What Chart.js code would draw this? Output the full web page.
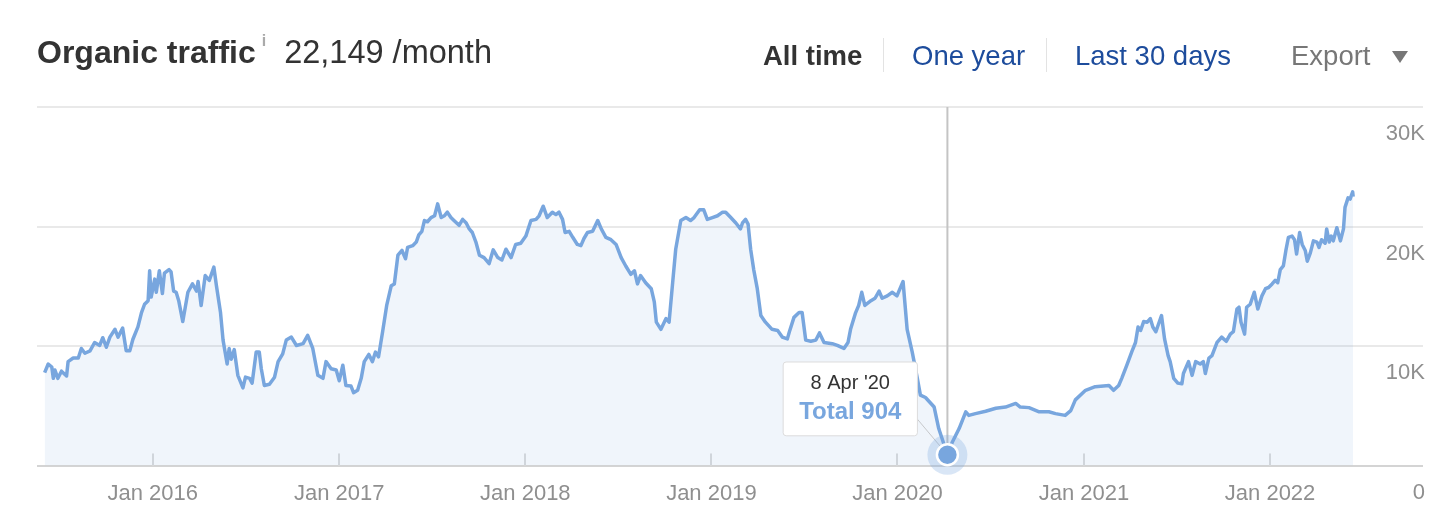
<!DOCTYPE html>
<html lang="en">
<head>
    <meta charset="UTF-8">
    <title>Organic traffic</title>
    <script src="https://cdn.jsdelivr.net/npm/chart.js"></script>
    <style>
        body { margin: 0; background: #fff; font-family: "Liberation Sans", Arial, Helvetica, sans-serif; }
        #wrap { position: relative; width: 1450px; height: 528px; overflow: hidden; }
        #chart-box { position: absolute; left: 0; top: 0; width: 1450px; height: 528px; }
        .hd { position: absolute; white-space: nowrap; line-height: 1; }
        .title { left: 37px; top: 36px; font-size: 32px; color: #333; }
        .title b { font-weight: bold; }
        .title sup { font-size: 16px; font-weight: bold; color: #aaa; vertical-align: top; position: relative; top: -3px; margin: 0 18px 0 6px; }
        .title .val { font-size: 32.5px; }
        .nav { top: 42px; font-size: 27.5px; }
        .nav.active { color: #333; font-weight: bold; }
        .nav.link { color: #1d4c9c; }
        .nav.export { color: #777; }
        .sep { position: absolute; top: 38px; width: 1px; height: 34px; background: #e3e3e3; }
        .caret { position: absolute; left: 1392px; top: 51px; width: 0; height: 0;
                 border-left: 8px solid transparent; border-right: 8px solid transparent; border-top: 12px solid #777; }
    </style>
</head>
<body>
<div id="wrap">
    <div id="chart-box"><canvas id="trafficChart"></canvas></div>

    <!-- header -->
    <div class="hd title"><b>Organic traffic</b><sup>i</sup><span class="val">22,149 /month</span></div>
    <div class="hd nav active" style="left:763px">All time</div>
    <div class="sep" style="left:883px"></div>
    <div class="hd nav link" style="left:912px">One year</div>
    <div class="sep" style="left:1046px"></div>
    <div class="hd nav link" style="left:1075px">Last 30 days</div>
    <div class="hd nav export" style="left:1291px">Export</div>
    <div class="caret"></div>
</div>

<script>
    // traffic readings (date, visits / month)
    const dates = [
        '2015-06-03','2015-06-10','2015-06-17','2015-06-20','2015-06-23','2015-06-29','2015-07-06','2015-07-16',
        '2015-07-19','2015-07-29','2015-08-08','2015-08-14','2015-08-21','2015-08-31','2015-09-09','2015-09-19',
        '2015-09-25','2015-10-02','2015-10-09','2015-10-19','2015-10-25','2015-11-03','2015-11-10','2015-11-17',
        '2015-11-23','2015-12-03','2015-12-10','2015-12-16','2015-12-23','2015-12-26','2015-12-29','2016-01-05',
        '2016-01-08','2016-01-14','2016-01-20','2016-01-24','2016-02-02','2016-02-06','2016-02-11','2016-02-16',
        '2016-02-21','2016-02-29','2016-03-10','2016-03-19','2016-03-27','2016-03-30','2016-04-05','2016-04-13',
        '2016-04-21','2016-04-30','2016-05-05','2016-05-13','2016-05-18','2016-05-26','2016-05-30','2016-06-03',
        '2016-06-09','2016-06-16','2016-06-26','2016-07-01','2016-07-09','2016-07-14','2016-07-22','2016-07-28',
        '2016-08-01','2016-08-07','2016-08-17','2016-08-27','2016-09-03','2016-09-12','2016-09-19','2016-09-29',
        '2016-10-09','2016-10-22','2016-10-31','2016-11-10','2016-11-20','2016-11-30','2016-12-06','2016-12-16',
        '2016-12-26','2017-01-01','2017-01-08','2017-01-14','2017-01-24','2017-01-29','2017-02-06','2017-02-13',
        '2017-02-19','2017-02-28','2017-03-07','2017-03-13','2017-03-19','2017-03-27','2017-04-04','2017-04-13',
        '2017-04-19','2017-04-26','2017-05-04','2017-05-11','2017-05-15','2017-05-25','2017-06-01','2017-06-06',
        '2017-06-12','2017-06-17','2017-06-23','2017-06-30','2017-07-07','2017-07-13','2017-07-20','2017-07-26',
        '2017-08-01','2017-08-08','2017-08-14','2017-08-24','2017-08-31','2017-09-07','2017-09-13','2017-09-19',
        '2017-09-26','2017-10-03','2017-10-12','2017-10-22','2017-10-30','2017-11-08','2017-11-16','2017-11-24',
        '2017-12-04','2017-12-13','2017-12-23','2018-01-02','2018-01-12','2018-01-22','2018-01-28','2018-02-05',
        '2018-02-13','2018-02-23','2018-03-02','2018-03-08','2018-03-15','2018-03-20','2018-03-28','2018-04-04',
        '2018-04-13','2018-04-20','2018-04-26','2018-05-03','2018-05-13','2018-05-23','2018-05-30','2018-06-08',
        '2018-06-18','2018-06-28','2018-07-08','2018-07-17','2018-07-27','2018-08-03','2018-08-09','2018-08-15',
        '2018-08-25','2018-09-05','2018-09-11','2018-09-15','2018-09-24','2018-10-04','2018-10-10','2018-10-17',
        '2018-10-23','2018-11-02','2018-11-12','2018-11-21','2018-11-28','2018-12-09','2018-12-17','2018-12-24',
        '2019-01-03','2019-01-13','2019-01-23','2019-01-29','2019-02-08','2019-02-18','2019-02-27','2019-03-03',
        '2019-03-09','2019-03-14','2019-03-19','2019-03-25','2019-04-01','2019-04-08','2019-04-17','2019-04-30',
        '2019-05-11','2019-05-20','2019-05-30','2019-06-03','2019-06-12','2019-06-22','2019-06-28','2019-07-05',
        '2019-07-15','2019-07-25','2019-08-01','2019-08-10','2019-08-26','2019-09-05','2019-09-18','2019-09-26',
        '2019-10-01','2019-10-11','2019-10-17','2019-10-23','2019-10-29','2019-11-10','2019-11-18','2019-11-26',
        '2019-12-02','2019-12-12','2019-12-22','2019-12-31','2020-01-12','2020-01-20','2020-01-30','2020-02-09',
        '2020-02-15','2020-02-25','2020-03-13','2020-03-22','2020-04-08','2020-04-18','2020-05-01','2020-05-14',
        '2020-05-20','2020-06-02','2020-06-22','2020-07-12','2020-07-31','2020-08-20','2020-08-29','2020-09-15',
        '2020-10-05','2020-10-24','2020-11-06','2020-11-25','2020-12-06','2020-12-15','2021-01-04','2021-01-23',
        '2021-02-19','2021-02-28','2021-03-10','2021-03-16','2021-03-26','2021-04-05','2021-04-12','2021-04-17',
        '2021-04-22','2021-04-28','2021-05-05','2021-05-11','2021-05-16','2021-05-22','2021-05-26','2021-06-02',
        '2021-06-08','2021-06-15','2021-06-19','2021-06-26','2021-07-04','2021-07-12','2021-07-15','2021-07-25',
        '2021-08-01','2021-08-08','2021-08-17','2021-08-23','2021-08-27','2021-09-03','2021-09-09','2021-09-19',
        '2021-09-28','2021-10-07','2021-10-15','2021-10-21','2021-10-28','2021-11-01','2021-11-05','2021-11-12',
        '2021-11-16','2021-11-23','2021-12-01','2021-12-08','2021-12-16','2021-12-23','2021-12-29','2022-01-05',
        '2022-01-11','2022-01-16','2022-01-21','2022-01-27','2022-02-01','2022-02-06','2022-02-13','2022-02-18',
        '2022-02-22','2022-02-28','2022-03-05','2022-03-11','2022-03-15','2022-03-21','2022-03-27','2022-04-03',
        '2022-04-07','2022-04-12','2022-04-19','2022-04-22','2022-04-27','2022-05-01','2022-05-05','2022-05-12',
        '2022-05-19','2022-05-25','2022-05-28','2022-06-03','2022-06-07','2022-06-12','2022-06-13'
    ];
    const traffic = [
        7780, 8500, 8250, 7300, 8000, 7300, 7900, 7500,
        8700, 9000, 9000, 9800, 9400, 9600, 10300, 10050,
        10700, 9900, 10750, 11400, 10750, 11500, 9600, 9600,
        10550, 11600, 12800, 13500, 13800, 16300, 14100, 15600,
        14500, 16300, 14400, 16100, 16400, 16200, 14600, 14500,
        13800, 12050, 14500, 15200, 14600, 15400, 13400, 15900,
        15500, 16600, 15050, 12800, 10500, 8500, 9800, 8900,
        9700, 7550, 6500, 7400, 7300, 6900, 9500, 9500,
        8100, 6700, 6800, 7400, 8700, 9350, 10500, 10750,
        10050, 10200, 10900, 9800, 7550, 7300, 8700, 8100,
        8000, 7100, 8400, 6700, 6650, 6100, 6300, 7300,
        8700, 9300, 8700, 9500, 9100, 11200, 13400, 15050,
        15200, 17600, 18000, 17300, 18250, 18400, 18700, 19300,
        19600, 20500, 20400, 20750, 20900, 21900, 20750, 20900,
        21200, 20750, 20500, 20100, 20600, 20300, 19800, 19500,
        18700, 17600, 17400, 16900, 18050, 17400, 17200, 18100,
        17400, 18500, 18600, 19200, 20500, 20600, 20900, 21700,
        20750, 21200, 21000, 21200, 20600, 19500, 19600, 19100,
        18500, 18400, 19000, 19500, 19600, 20500, 19800, 19100,
        18900, 18500, 17400, 16700, 16000, 16300, 15200, 15900,
        15300, 14800, 13700, 12000, 11400, 12300, 12000, 15300,
        18100, 20500, 20750, 20500, 20750, 21400, 21400, 20600,
        20750, 20900, 21200, 21200, 20750, 20300, 19800, 20300,
        20600, 20200, 18100, 16400, 14800, 12550, 12000, 11400,
        11300, 10750, 10600, 11200, 12400, 12800, 12800, 10500,
        10400, 10500, 11100, 10300, 10200, 10050, 9800, 10300,
        11400, 12800, 13400, 14500, 13400, 13800, 14000, 14600,
        14000, 14200, 14500, 14200, 15400, 11400, 9500, 7300,
        5900, 5700, 4900, 3100, 904, 2000, 3100, 4500,
        4200, 4350, 4550, 4800, 4900, 5200, 4900, 4850,
        4500, 4500, 4350, 4200, 4600, 5500, 6300, 6600,
        6700, 6300, 6700, 7300, 8400, 9550, 10300, 11600,
        11300, 12050, 12000, 12300, 11600, 11200, 11700, 12550,
        10600, 9200, 8700, 7300, 6900, 6850, 7700, 8700,
        7550, 8700, 8500, 8700, 7700, 9000, 9200, 10300,
        10750, 10400, 11000, 11200, 13100, 13250, 12000, 11000,
        13250, 13500, 14500, 13100, 14200, 14800, 14900, 15200,
        15500, 15300, 16400, 16700, 18000, 19100, 19200, 18900,
        17700, 19500, 18500, 18000, 17100, 17800, 18800, 18700,
        18250, 18900, 18600, 19800, 18700, 19200, 18800, 19900,
        18800, 19800, 21600, 22400, 22300, 22900, 22500
    ];

    const xTickDates = ['2016-01-01', '2017-01-01', '2018-01-01', '2019-01-01', '2020-01-01', '2021-01-01', '2022-01-01'];
    const xTickLabels = ['Jan 2016', 'Jan 2017', 'Jan 2018', 'Jan 2019', 'Jan 2020', 'Jan 2021', 'Jan 2022'];
    const yTicks = [0, 10000, 20000, 30000];
    const yTickLabels = ['0', '10K', '20K', '30K'];
    const xRange = ['2015-05-19', '2022-10-28'];
    const highlightDate = '2020-04-08';

    const monthNames = ['Jan','Feb','Mar','Apr','May','Jun','Jul','Aug','Sep','Oct','Nov','Dec'];
    const lineColor = '#78a6de';
    const hiIndex = dates.indexOf(highlightDate);

    // tooltip sits up-left of the point
    Chart.Tooltip.positioners.upLeft = function(items) {
        if (!items.length) return false;
        const el = items[0].element;
        return { x: el.x - 33, y: el.y - 19 };
    };

    // crosshair, year tick marks and the highlighted point
    const markers = {
        id: 'markers',
        beforeDatasetsDraw(chart) {
            const { ctx, chartArea } = chart;
            const pt = chart.getDatasetMeta(0).data[hiIndex];
            ctx.save();
            ctx.strokeStyle = '#c4c4c4';
            ctx.lineWidth = 2;
            ctx.beginPath();
            ctx.moveTo(pt.x, chartArea.top);
            ctx.lineTo(pt.x, chartArea.bottom);
            ctx.stroke();

            const xs = chart.scales.x;
            ctx.strokeStyle = '#dcdcdc';
            xTickDates.forEach(d => {
                const px = Math.round(xs.getPixelForValue(Date.parse(d)));
                ctx.beginPath();
                ctx.moveTo(px, chartArea.bottom - 12);
                ctx.lineTo(px, chartArea.bottom);
                ctx.stroke();
            });
            ctx.restore();
        },
        afterDatasetsDraw(chart) {
            const { ctx } = chart;
            const pt = chart.getDatasetMeta(0).data[hiIndex];
            const tip = chart.tooltip;
            ctx.save();
            if (tip && tip.opacity) {
                ctx.strokeStyle = 'rgba(170,170,170,0.6)';
                ctx.lineWidth = 1;
                ctx.beginPath();
                ctx.moveTo(tip.x + tip.width - 14, tip.y + tip.height * 0.55);
                ctx.lineTo(pt.x, pt.y);
                ctx.stroke();
            }
            ctx.fillStyle = 'rgba(120,166,222,0.28)';
            ctx.beginPath();
            ctx.arc(pt.x, pt.y, 20, 0, Math.PI * 2);
            ctx.fill();
            ctx.fillStyle = lineColor;
            ctx.strokeStyle = '#fff';
            ctx.lineWidth = 2.5;
            ctx.beginPath();
            ctx.arc(pt.x, pt.y, 10.5, 0, Math.PI * 2);
            ctx.fill();
            ctx.stroke();
            ctx.restore();
        }
    };

    const chart = new Chart(document.getElementById('trafficChart'), {
        type: 'line',
        data: {
            datasets: [{
                label: 'Total',
                data: dates.map((d, i) => ({ x: Date.parse(d), y: traffic[i] })),
                borderColor: lineColor,
                borderWidth: 3.5,
                borderJoinStyle: 'round',
                backgroundColor: 'rgba(120,166,222,0.11)',
                fill: 'origin',
                pointRadius: 0,
                tension: 0
            }]
        },
        options: {
            responsive: true,
            maintainAspectRatio: false,
            animation: false,
            events: [],
            layout: { padding: { left: 37, top: 107, right: 23, bottom: 6 } },
            scales: {
                x: {
                    type: 'linear',
                    min: Date.parse(xRange[0]),
                    max: Date.parse(xRange[1]),
                    afterBuildTicks: scale => {
                        scale.ticks = xTickDates.map(d => ({ value: Date.parse(d) }));
                    },
                    grid: { display: true, drawOnChartArea: false, drawTicks: false },
                    border: { display: false },
                    ticks: {
                        autoSkip: false,
                        maxRotation: 0,
                        padding: 15,
                        color: '#8f8f8f',
                        font: { family: '"Liberation Sans", Arial, sans-serif', size: 22 },
                        callback: (value, index) => xTickLabels[index]
                    }
                },
                y: {
                    position: 'right',
                    min: 0,
                    max: 30000,
                    afterBuildTicks: scale => {
                        scale.ticks = yTicks.map(v => ({ value: v }));
                    },
                    grid: {
                        drawTicks: false,
                        lineWidth: 2,
                        color: ctx => ctx.tick && ctx.tick.value === 0 ? '#d4d4d4' : '#e9e9e9'
                    },
                    border: { display: false },
                    ticks: {
                        mirror: true,
                        padding: 2,
                        labelOffset: 27,
                        color: '#8f8f8f',
                        font: { family: '"Liberation Sans", Arial, sans-serif', size: 22 },
                        callback: (value, index) => yTickLabels[index]
                    }
                }
            },
            plugins: {
                legend: { display: false },
                tooltip: {
                    enabled: true,
                    position: 'upLeft',
                    xAlign: 'right',
                    yAlign: 'bottom',
                    caretSize: 0,
                    caretPadding: 0,
                    cornerRadius: 3,
                    backgroundColor: '#fff',
                    borderColor: '#dcdcdc',
                    borderWidth: 1,
                    displayColors: false,
                    padding: { x: 16, y: 9 },
                    titleAlign: 'center',
                    bodyAlign: 'center',
                    titleColor: '#333',
                    bodyColor: lineColor,
                    titleMarginBottom: 3,
                    titleFont: { family: '"Liberation Sans", Arial, sans-serif', size: 20, weight: 'normal' },
                    bodyFont: { family: '"Liberation Sans", Arial, sans-serif', size: 24, weight: 'bold' },
                    callbacks: {
                        title: items => {
                            const d = new Date(items[0].parsed.x);
                            return d.getUTCDate() + ' ' + monthNames[d.getUTCMonth()] + " '" + String(d.getUTCFullYear()).slice(2);
                        },
                        label: item => 'Total ' + item.parsed.y.toLocaleString('en-US')
                    }
                }
            }
        },
        plugins: [markers]
    });

    chart.tooltip.setActiveElements([{ datasetIndex: 0, index: hiIndex }], { x: 0, y: 0 });
    chart.update();
</script>
</body>
</html>
